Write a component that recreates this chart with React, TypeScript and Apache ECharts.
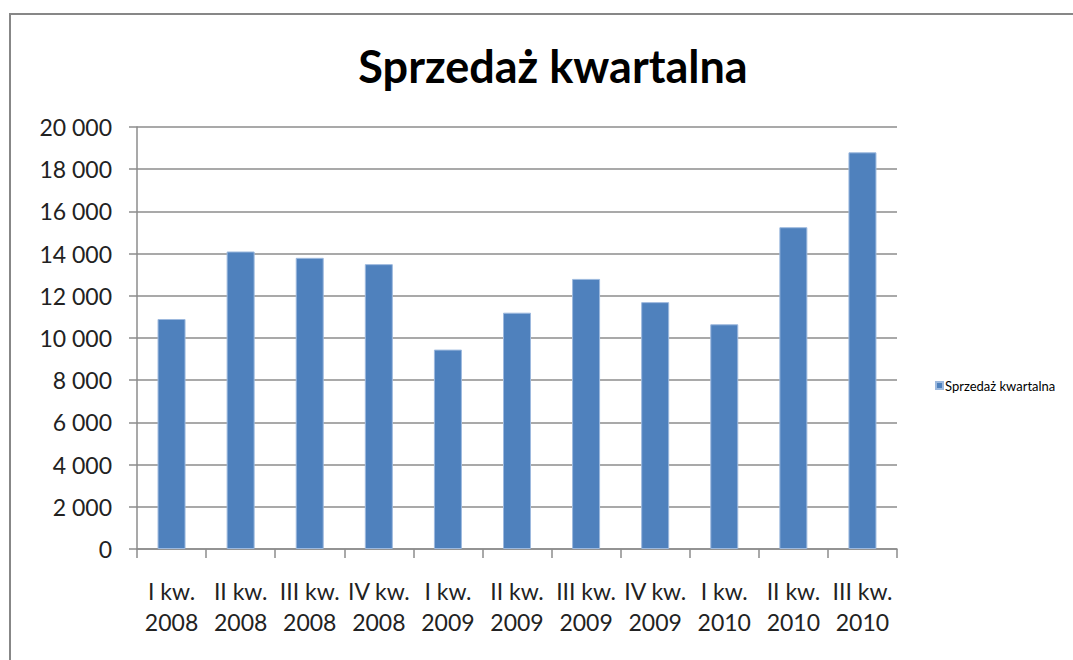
import React, { useEffect, useRef } from "react";
import * as echarts from "echarts";

const categories = [
  "I kw.\n2008", "II kw.\n2008", "III kw.\n2008", "IV kw.\n2008",
  "I kw.\n2009", "II kw.\n2009", "III kw.\n2009", "IV kw.\n2009",
  "I kw.\n2010", "II kw.\n2010", "III kw.\n2010",
];
const sales = [10900, 14100, 13800, 13500, 9450, 11200, 12800, 11700, 10650, 15250, 18800];
const seriesName = "Sprzedaż kwartalna";
const titleText = "Sprzedaż kwartalna";

const FONT = "Lato, 'Open Sans', sans-serif";

export default function App() {
  const ref = useRef<HTMLDivElement>(null);
  useEffect(() => {
    if (!ref.current) return;
    const chart = echarts.init(ref.current, undefined, { renderer: "svg" });
    chart.setOption({
      animation: false,
      backgroundColor: "#ffffff",
      title: {
        text: titleText,
        left: 548,
        textAlign: "center",
        top: 38,
        textStyle: { fontFamily: FONT, fontSize: 45, fontWeight: "bold", color: "#000" },
      },
      graphic: [
        {
          type: "rect",
          shape: { x: 10, y: 14, width: 1100, height: 700 },
          style: { fill: "none", stroke: "#878787", lineWidth: 2 },
          silent: true,
        },
      ],
      legend: {
        left: 930,
        top: 374,
        itemWidth: 7,
        itemHeight: 7,
        icon: "rect",
        textStyle: { fontFamily: FONT, fontSize: 13, color: "#000", padding: [0, 0, 0, -3] },
        data: [seriesName],
      },
      grid: { left: 137, right: 176, top: 127, bottom: 111, containLabel: false },
      xAxis: {
        type: "category",
        data: categories,
        axisLine: { lineStyle: { color: "#8c8c8c", width: 1.5 } },
        axisTick: { show: true, length: 9, lineStyle: { color: "#8c8c8c", width: 1.5 } },
        axisLabel: {
          fontFamily: FONT,
          fontSize: 23,
          color: "#222",
          margin: 26,
          lineHeight: 31,
          interval: 0,
        },
      },
      yAxis: {
        type: "value",
        min: 0,
        max: 20000,
        interval: 2000,
        axisLine: { show: true, lineStyle: { color: "#8c8c8c", width: 1.5 } },
        axisTick: { show: true, length: 8, lineStyle: { color: "#8c8c8c", width: 1.5 } },
        splitLine: { lineStyle: { color: "#8c8c8c", width: 1.5 } },
        axisLabel: {
          fontFamily: FONT,
          fontSize: 23,
          color: "#222",
          margin: 25,
          formatter: (v: number) => String(v).replace(/\B(?=(\d{3})+(?!\d))/g, " "),
        },
      },
      series: [
        {
          name: seriesName,
          type: "bar",
          data: sales,
          barWidth: 28,
          itemStyle: { color: "#4F81BD", borderColor: "#9DB9DE", borderWidth: 1 },
        },
      ],
    });
    return () => chart.dispose();
  }, []);
  return (
    <div
      ref={ref}
      style={{ position: "absolute", left: 0, top: 0, width: 1073, height: 660 }}
    />
  );
}
